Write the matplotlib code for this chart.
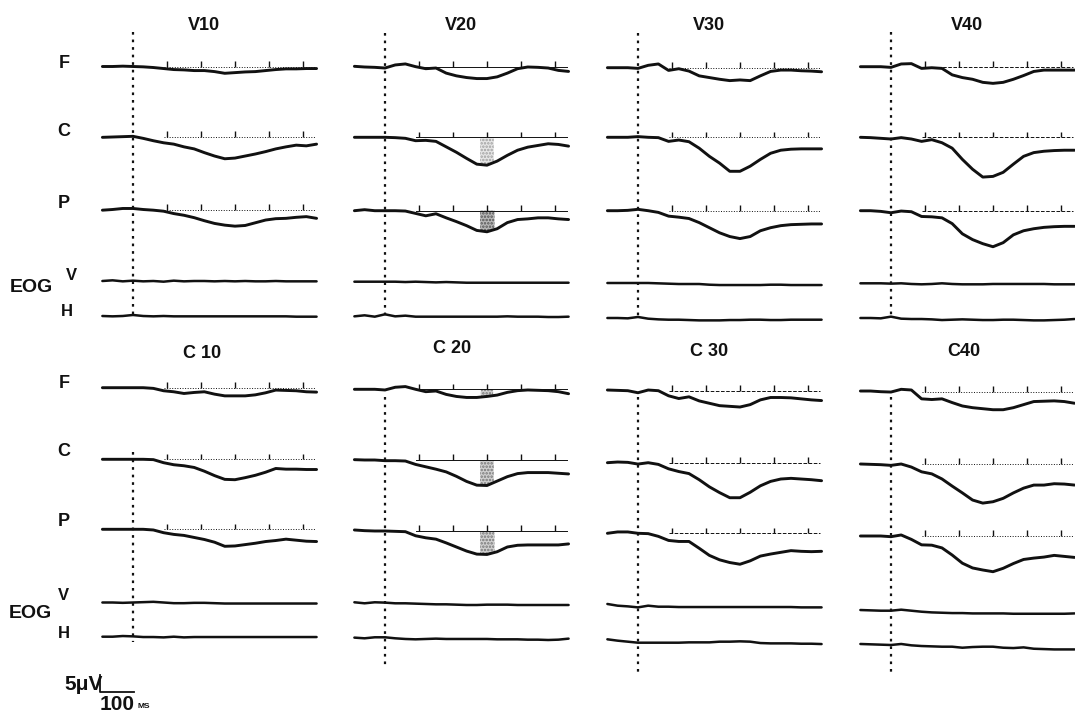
import matplotlib
matplotlib.use('Agg')
import matplotlib.pyplot as plt
import numpy as np

plt.rcParams['font.family'] = ['Liberation Sans', 'DejaVu Sans']
plt.rcParams['hatch.linewidth'] = 1.2

# sample times (ms after stimulus onset)
t_ms = [-90, -60, -30, 0, 30, 60, 90, 120, 150, 180, 210,
        240, 270, 300, 330, 360, 390, 420, 450, 480, 510, 540]

conditions = ['V10', 'V20', 'V30', 'V40', 'C 10', 'C 20', 'C 30', 'C40']
channels = ['F', 'C', 'P', 'V', 'H']

# amplitudes in uV (positive drawn downward)
v10_F = [0, 0, -0.1, 0, 0.1, 0.3, 0.6, 0.9, 1.0, 1.2, 1.2, 1.5, 2.0, 1.8, 1.6, 1.5, 1.2, 0.9, 0.7, 0.7, 0.6, 0.6]
v10_C = [0.1, 0, -0.1, -0.2, 0.4, 1.1, 1.7, 2.1, 2.9, 3.5, 4.6, 5.6, 6.4, 6.2, 5.6, 5.0, 4.3, 3.5, 2.9, 2.4, 2.6, 2.1]
v10_P = [0.2, 0, -0.3, -0.3, 0, 0.2, 0.5, 1.2, 1.7, 2.4, 3.3, 4.1, 4.6, 4.9, 4.7, 3.9, 3.1, 2.7, 2.6, 2.3, 2.1, 2.6]
v10_V = [0, -0.2, 0.1, -0.1, 0.1, 0, 0.2, -0.1, 0.1, 0, 0, 0.1, 0, 0.1, 0, 0.1, 0.1, 0, 0.1, 0.1, 0.1, 0.1]
v10_H = [0, 0.1, 0, -0.3, 0, 0.1, 0, 0.1, 0.1, 0.1, 0.1, 0.1, 0.1, 0.1, 0.1, 0.1, 0.1, 0.1, 0.1, 0.2, 0.2, 0.2]

v20_F = [-0.2, 0, 0.1, 0.3, -0.6, -0.9, -0.1, 0.5, 0.3, 1.8, 2.6, 3.1, 3.4, 3.4, 2.9, 1.8, 0.5, 0, 0.1, 0.3, 1.0, 1.3]
v20_C = [0, 0, 0, 0, 0.1, 0.3, 1.0, 0.9, 1.2, 2.8, 4.4, 6.2, 7.9, 8.2, 7.0, 5.3, 3.8, 2.9, 2.4, 1.9, 2.1, 2.6]
v20_P = [0, -0.3, 0, 0, 0, 0.1, 0.8, 1.5, 0.9, 2.1, 3.2, 4.4, 5.8, 6.2, 5.3, 3.5, 2.6, 2.4, 2.1, 2.1, 2.4, 2.6]
v20_V = [0, 0, 0, 0, 0, 0.1, 0, 0.1, 0.2, 0.1, 0.2, 0.3, 0.3, 0.3, 0.3, 0.3, 0.3, 0.3, 0.3, 0.3, 0.3, 0.3]
v20_H = [0.1, -0.2, 0.2, -0.5, 0.1, -0.1, 0.2, 0.2, 0.2, 0.2, 0.2, 0.2, 0.2, 0.2, 0.2, 0.1, 0.2, 0.2, 0.2, 0.3, 0.3, 0.2]

v30_F = [0, 0, 0, 0.2, -0.7, -1.1, 0.8, 0.3, 1.0, 2.4, 2.9, 3.4, 3.8, 3.6, 3.8, 2.4, 1.1, 0.7, 0.7, 0.9, 1.0, 1.2]
v30_C = [0, 0, 0, -0.2, 0, 0.1, 1.2, 0.8, 1.3, 3.2, 5.6, 7.6, 10.0, 10.0, 8.5, 6.5, 4.7, 3.8, 3.5, 3.4, 3.4, 3.4]
v30_P = [0, 0, -0.1, -0.4, 0, 0.5, 1.6, 1.9, 2.3, 3.5, 5.0, 6.5, 7.6, 8.2, 7.6, 5.9, 5.0, 4.4, 4.1, 4.0, 3.9, 3.9]
v30_V = [0, 0, 0, 0, 0, 0.1, 0.2, 0.3, 0.3, 0.3, 0.5, 0.6, 0.6, 0.6, 0.6, 0.6, 0.5, 0.5, 0.6, 0.6, 0.6, 0.6]
v30_H = [0, 0, 0.1, -0.3, 0.2, 0.4, 0.5, 0.5, 0.6, 0.7, 0.7, 0.7, 0.6, 0.6, 0.5, 0.5, 0.6, 0.6, 0.5, 0.5, 0.5, 0.5]

v40_F = [0, 0, 0, 0.2, -0.8, -0.9, 0.5, 0.3, 0.5, 2.4, 3.2, 3.7, 4.6, 4.9, 4.6, 3.7, 2.6, 1.4, 1.0, 1.0, 1.0, 1.0]
v40_C = [0, 0.1, 0.3, 0.5, 0.1, 0.5, 1.2, 0.7, 1.6, 3.2, 6.5, 9.4, 11.7, 11.5, 10.3, 7.9, 5.6, 4.5, 4.1, 3.9, 3.8, 3.8]
v40_P = [0, 0, 0.2, 0.6, 0.1, 0.3, 1.7, 1.8, 2.1, 3.8, 6.8, 8.5, 9.7, 10.6, 9.4, 7.1, 5.9, 5.3, 4.9, 4.7, 4.6, 4.6]
v40_V = [0, 0, 0, 0.1, 0, 0.2, 0.3, 0.2, 0, 0.2, 0.3, 0.3, 0.3, 0.2, 0.2, 0.2, 0.2, 0.2, 0.2, 0.3, 0.3, 0.3]
v40_H = [0, 0, 0.1, -0.4, 0.2, 0.3, 0.3, 0.4, 0.6, 0.5, 0.4, 0.5, 0.6, 0.6, 0.5, 0.5, 0.6, 0.7, 0.7, 0.6, 0.5, 0.3]

c10_F = [0, 0, 0, 0, 0, 0.2, 0.9, 1.2, 1.7, 1.4, 1.2, 1.9, 2.4, 2.4, 2.4, 2.1, 1.5, 0.7, 0.8, 0.9, 1.2, 1.3]
c10_C = [0, 0, 0, 0, 0, 0.1, 1.0, 1.6, 1.9, 2.4, 3.5, 4.8, 5.9, 6.0, 5.4, 4.7, 3.8, 2.7, 2.9, 2.9, 3.0, 3.0]
c10_P = [0, 0, 0, 0, 0, 0.2, 1.0, 1.5, 1.8, 2.4, 3.0, 3.8, 5.0, 4.9, 4.5, 4.1, 3.6, 3.3, 2.9, 3.2, 3.5, 3.6]
c10_V = [0, 0, 0.1, 0, -0.1, -0.2, 0, 0.2, 0.2, 0.1, 0.1, 0.2, 0.3, 0.3, 0.3, 0.3, 0.3, 0.3, 0.3, 0.3, 0.3, 0.3]
c10_H = [0, 0, -0.2, -0.1, 0.1, 0.1, 0.2, 0, 0.2, 0.1, 0.1, 0.1, 0.1, 0.1, 0.1, 0.1, 0.1, 0.1, 0.1, 0.1, 0.1, 0.1]

c20_F = [0, 0, 0, 0.2, -0.6, -0.8, 0, 0.7, 0.5, 1.5, 2.1, 2.4, 2.4, 2.1, 1.7, 0.9, 0.4, 0.2, 0.3, 0.4, 0.7, 1.3]
c20_C = [-0.1, 0, 0, 0.2, 0.2, 0.3, 1.3, 2.0, 2.7, 3.5, 4.8, 6.3, 7.4, 7.5, 6.2, 4.9, 4.0, 3.7, 3.7, 3.7, 3.9, 4.1]
c20_P = [-0.3, -0.1, 0, 0, 0.1, 0.2, 1.4, 2.0, 2.4, 3.5, 4.7, 5.9, 6.8, 6.9, 6.1, 4.7, 4.2, 4.1, 4.1, 4.1, 4.1, 3.8]
c20_V = [-0.3, 0, -0.3, -0.2, 0, 0, 0.1, 0.2, 0.3, 0.3, 0.4, 0.5, 0.5, 0.4, 0.4, 0.4, 0.5, 0.5, 0.5, 0.5, 0.5, 0.5]
c20_H = [-0.2, 0, -0.3, -0.3, 0, 0.2, 0.3, 0.2, 0.1, 0.2, 0.2, 0.2, 0.2, 0.2, 0.3, 0.3, 0.3, 0.4, 0.4, 0.5, 0.4, 0.1]

c30_F = [-0.2, -0.1, 0, 0.6, -0.2, 0, 1.5, 2.3, 1.8, 3.0, 3.7, 4.4, 4.6, 4.8, 4.1, 2.7, 2.0, 2.0, 2.1, 2.4, 2.7, 2.9]
c30_C = [0, -0.2, -0.1, 0.4, 0, 0.5, 1.8, 2.6, 3.2, 5.0, 7.1, 8.8, 10.3, 10.3, 8.7, 6.8, 5.5, 4.8, 4.6, 4.8, 5.0, 5.3]
c30_P = [0, -0.4, -0.4, 0, 0.1, 0.9, 2.1, 2.4, 2.4, 4.4, 6.5, 7.8, 8.6, 9.1, 8.1, 6.7, 6.1, 5.6, 5.1, 5.3, 5.4, 5.3]
c30_V = [-0.8, -0.3, -0.1, 0.2, -0.3, 0, 0, 0.1, 0.1, 0.1, 0.1, 0.1, 0.1, 0.1, 0.1, 0.1, 0.1, 0.1, 0.1, 0.2, 0.2, 0.2]
c30_H = [-1.0, -0.6, -0.3, 0, 0, 0, 0, 0, -0.1, -0.1, -0.1, -0.3, -0.3, -0.4, -0.3, 0.1, 0.2, 0.2, 0.2, 0.3, 0.3, 0.4]

c40_F = [-0.2, -0.2, 0, 0.1, -0.7, -0.5, 2.1, 2.3, 2.1, 3.2, 4.2, 4.7, 5.0, 5.3, 5.3, 4.7, 3.8, 2.9, 2.8, 2.7, 2.9, 3.4]
c40_C = [0, 0.1, 0.2, 0.4, 0, 0.9, 2.3, 2.9, 4.4, 6.5, 8.5, 10.6, 11.5, 11.1, 10.1, 8.5, 7.1, 6.2, 6.2, 5.8, 5.9, 6.2]
c40_P = [0, 0, 0, 0.2, -0.3, 1.0, 2.6, 2.7, 3.5, 5.6, 8.0, 9.4, 10.0, 10.5, 9.5, 8.1, 6.9, 6.5, 6.2, 5.7, 6.0, 6.3]
c40_V = [-0.2, -0.1, 0, 0, -0.3, 0, 0.3, 0.5, 0.6, 0.7, 0.7, 0.8, 0.8, 0.8, 0.8, 0.9, 0.9, 0.9, 0.9, 0.9, 0.9, 0.8]
c40_H = [-0.3, -0.2, -0.1, 0, -0.3, 0.1, 0.3, 0.4, 0.5, 0.5, 0.8, 0.6, 0.5, 0.5, 0.8, 0.9, 0.7, 1.1, 1.2, 1.3, 1.3, 1.3]

traces = {
    'V10': [v10_F, v10_C, v10_P, v10_V, v10_H],
    'V20': [v20_F, v20_C, v20_P, v20_V, v20_H],
    'V30': [v30_F, v30_C, v30_P, v30_V, v30_H],
    'V40': [v40_F, v40_C, v40_P, v40_V, v40_H],
    'C 10': [c10_F, c10_C, c10_P, c10_V, c10_H],
    'C 20': [c20_F, c20_C, c20_P, c20_V, c20_H],
    'C 30': [c30_F, c30_C, c30_P, c30_V, c30_H],
    'C40': [c40_F, c40_C, c40_P, c40_V, c40_H],
}

marker_ms = [100, 200, 300, 400, 500]   # time marks on baselines

# stippled regions: (channel, from ms, to ms, fill grey, dot grey)
shaded = {
    'V20': [('C', 280, 320, '#e6e6e6', '#a0a0a0'), ('P', 280, 322, '#b8b8b8', '#555555')],
    'C 20': [('F', 282, 318, '#d0d0d0', '#777777'), ('C', 280, 320, '#d0d0d0', '#777777'),
             ('P', 280, 322, '#d0d0d0', '#777777')],
}

# ---- layout (pixels) ----
W, H = 1075, 722
PX_MS = 0.34
PX_UV = 3.4
T0, T1 = -97, 540
col_x = [100, 352, 605, 858]
row_span = [(0, 330), (330, 722)]
base_px = {
    'V10': [66.5, 137, 209.5, 281, 316],
    'V20': [67, 137.3, 210.7, 281.7, 316],
    'V30': [67.7, 137.3, 210.7, 283, 318],
    'V40': [66.7, 137.3, 210.7, 283.3, 318],
    'C 10': [387.7, 459.3, 529.3, 602.5, 636.7],
    'C 20': [389.3, 460, 531, 603.3, 638.3],
    'C 30': [390.7, 462.7, 533.3, 606.7, 642.7],
    'C40': [391.7, 464, 536, 610.7, 645],
}
stim_px = {'V10': (32, 318), 'V20': (33, 316), 'V30': (33, 318), 'V40': (32, 318),
           'C 10': (452, 642), 'C 20': (397, 667), 'C 30': (397, 672), 'C40': (397, 673)}
title_px = {'V10': (204, 25), 'V20': (461, 25), 'V30': (709, 25), 'V40': (967, 25),
            'C 10': (202, 353), 'C 20': (452, 348), 'C 30': (709, 352), 'C40': (964, 352)}
ref_ls = {'V10': ':', 'V20': '-', 'V30': ':', 'V40': '--',
          'C 10': ':', 'C 20': '-', 'C 30': '--', 'C40': ':'}

ink = '#111111'

fig = plt.figure(figsize=(W / 100, H / 100), dpi=100)
fig.patch.set_facecolor('white')

for i, cond in enumerate(conditions):
    r, c = divmod(i, 4)
    y0, y1 = row_span[r]
    w = (T1 - T0) * PX_MS
    ax = fig.add_axes([col_x[c] / W, 1 - y1 / H, w / W, (y1 - y0) / H])
    ax.set_xlim(T0, T1)
    ax.set_ylim((y1 - y0) / PX_UV, 0)
    ax.axis('off')

    def to_uv(px):
        return (px - y0) / PX_UV

    for k, ch in enumerate(channels):
        base = to_uv(base_px[cond][k])
        vals = np.array(traces[cond][k])
        if k < 3:
            ax.plot([90, 535], [base, base], lw=0.7, ls=ref_ls[cond], color=ink, zorder=2)
            ax.vlines(marker_ms, base - 1.7, base, lw=1.0, color=ink, zorder=2)
        ax.plot(t_ms, base + vals, lw=2.1 if k < 3 else 1.8, color=ink,
                solid_joinstyle='round', solid_capstyle='round', clip_on=False, zorder=3)

    for ch, ta, tb, fill, dots in shaded.get(cond, []):
        k = channels.index(ch)
        base = to_uv(base_px[cond][k])
        tt = np.linspace(ta, tb, 30)
        yy = base + np.interp(tt, t_ms, traces[cond][k])
        ax.fill_between(tt, base, yy, facecolor=fill, edgecolor=dots,
                        hatch='.....', lw=0, zorder=1)

    s0, s1 = stim_px[cond]
    ax.plot([0, 0], [to_uv(s0), to_uv(s1)], ls=(0, (1.2, 2.2)), lw=1.6, color=ink, clip_on=False)

    tx, ty = title_px[cond]
    fig.text(tx / W, 1 - ty / H, cond, ha='center', va='center', fontsize=13, fontweight='bold', color=ink)

    if i == 4:
        # calibration: 5 uV / 100 ms
        yb = to_uv(692)
        ax.plot([T0, T0, T0 + 100], [yb - 5, yb, yb], lw=1.3, color=ink, clip_on=False)


def label(x, y, s, size, **kw):
    fig.text(x / W, 1 - y / H, s, ha='center', va='center', fontsize=size,
             fontweight='bold', color=ink, **kw)


for fy, cy, py in [(63, 132, 203), (383, 452, 522)]:
    label(64, fy, 'F', 13)
    label(64, cy, 'C', 13)
    label(64, py, 'P', 13)

label(31, 287, 'EOG', 14)
label(71, 275, 'V', 12)
label(67, 312, 'H', 12)
label(30, 613, 'EOG', 14)
label(63, 595, 'V', 12)
label(64, 633, 'H', 12)

fig.text(103 / W, 1 - 684 / H, '5\u03bcV', ha='right', va='center', fontsize=15,
         fontweight='bold', color=ink)
label(117, 704, '100', 15)
label(144, 707, 'MS', 6)

fig.savefig('out.png', dpi=100, facecolor='white')
